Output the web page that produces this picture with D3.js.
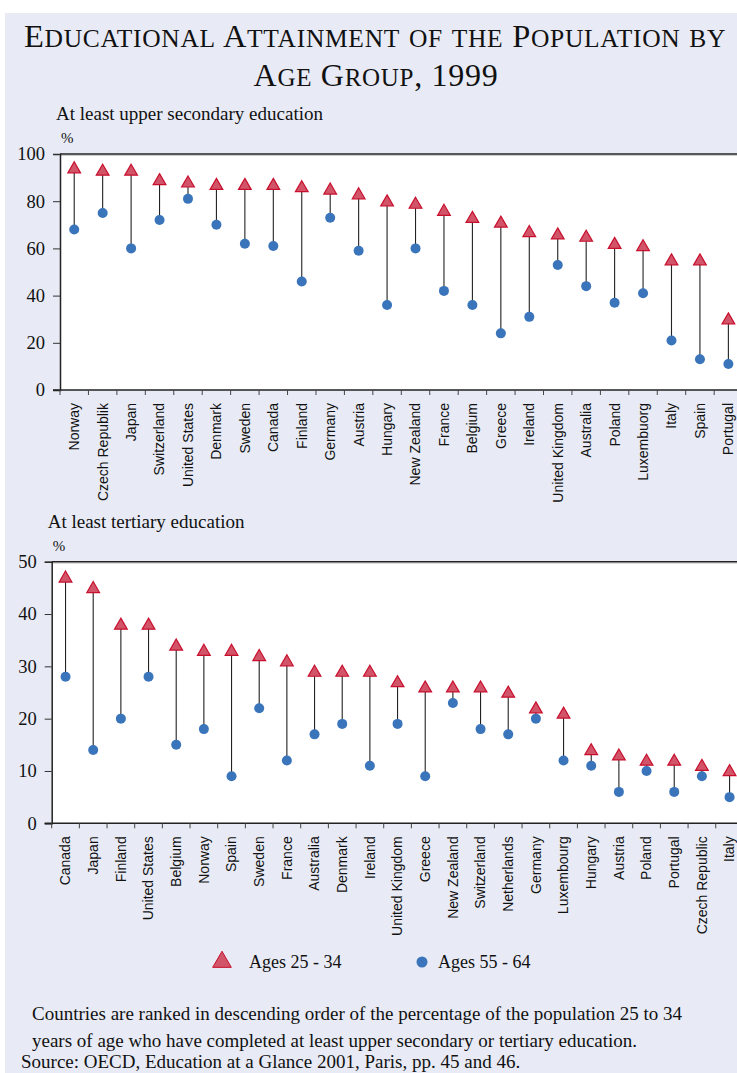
<!DOCTYPE html>
<meta charset="utf-8">
<html>
<head>
    <title>Educational Attainment by Age Group, 1999</title>
    <style>
        body { margin: 0; background: #fff; }
        svg { display: block; }
        .serif { font-family: "Liberation Serif", "Times New Roman", serif; fill: #111; }
        .cname { font-family: "Liberation Sans", Arial, sans-serif; font-size: 14px; fill: #111; }
    </style>
    <script src="https://d3js.org/d3.v7.min.js"></script>
</head>
<body>
<div id="chart"></div>
<script>
    // Upper secondary education, ranked by 25-34
    const upperCountries = ["Norway", "Czech Republik", "Japan", "Switzerland", "United States", "Denmark",
        "Sweden", "Canada", "Finland", "Germany", "Austria", "Hungary", "New Zealand", "France", "Belgium",
        "Greece", "Ireland", "United Kingdom", "Australia", "Poland", "Luxembuorg", "Italy", "Spain", "Portugal"];
    const upperYoung = [94, 93, 93, 89, 88, 87, 87, 87, 86, 85, 83, 80, 79, 76, 73, 71, 67, 66, 65, 62, 61, 55, 55, 30];
    const upperOld = [68, 75, 60, 72, 81, 70, 62, 61, 46, 73, 59, 36, 60, 42, 36, 24, 31, 53, 44, 37, 41, 21, 13, 11];
    const upperTicks = [0, 20, 40, 60, 80, 100];

    // Tertiary education, ranked by 25-34
    const tertCountries = ["Canada", "Japan", "Finland", "United States", "Belgium", "Norway", "Spain", "Sweden",
        "France", "Australia", "Denmark", "Ireland", "United Kingdom", "Greece", "New Zealand", "Switzerland",
        "Netherlands", "Germany", "Luxembourg", "Hungary", "Austria", "Poland", "Portugal", "Czech Republic", "Italy"];
    const tertYoung = [47, 45, 38, 38, 34, 33, 33, 32, 31, 29, 29, 29, 27, 26, 26, 26, 25, 22, 21, 14, 13, 12, 12, 11, 10];
    const tertOld = [28, 14, 20, 28, 15, 18, 9, 22, 12, 17, 19, 11, 19, 9, 23, 18, 17, 20, 12, 11, 6, 10, 6, 9, 5];
    const tertTicks = [0, 10, 20, 30, 40, 50];

    const W = 737, H = 1073;
    const triColor = "#D25469", triStroke = "#C8102E", dotColor = "#3A74BA";

    const svg = d3.select("#chart").append("svg")
        .attr("width", W)
        .attr("height", H);

    // panel background
    svg.append("rect")
        .attr("x", 5).attr("y", 13)
        .attr("width", W - 5).attr("height", H - 13)
        .attr("fill", "#E8EBF5");

    // title in small caps: capitals and digits full size, lower case as small capitals
    function smallCaps(text, x, y, big, small) {
        const t = svg.append("text").attr("class", "serif")
            .attr("x", x).attr("y", y)
            .attr("text-anchor", "middle")
            .attr("letter-spacing", 0.7);
        const runs = [];
        for (const ch of text) {
            const isSmall = ch !== ch.toUpperCase();
            const last = runs[runs.length - 1];
            if (last && last.small === isSmall) last.s += ch;
            else runs.push({ small: isSmall, s: ch });
        }
        runs.forEach(r => {
            t.append("tspan").attr("font-size", r.small ? small : big).text(r.s.toUpperCase());
        });
    }
    smallCaps("Educational Attainment of the Population by", 375, 47, 32.5, 25.5);
    smallCaps("Age Group, 1999", 376, 86, 32, 25);

    const triangle = d3.symbol().type(d3.symbolTriangle).size(70);

    function drawPanel(opts) {
        const g = svg.append("g");
        const x = d3.scaleBand()
            .domain(opts.countries)
            .range([opts.left, opts.right]);
        const y = d3.scaleLinear()
            .domain([0, opts.max])
            .range([opts.bottom, opts.top]);

        // subtitle and unit
        g.append("text").attr("class", "serif")
            .attr("x", opts.left - 4).attr("y", opts.top - 34)
            .attr("font-size", 19)
            .text(opts.subtitle);
        g.append("text").attr("class", "serif")
            .attr("x", opts.left + 1).attr("y", opts.top - 11)
            .attr("font-size", 15)
            .text("%");

        // plot area
        g.append("rect")
            .attr("x", opts.left).attr("y", opts.top)
            .attr("width", opts.right - opts.left).attr("height", opts.bottom - opts.top)
            .attr("fill", "#fff");
        g.append("line")
            .attr("x1", opts.left).attr("x2", opts.right)
            .attr("y1", opts.top + 1.5).attr("y2", opts.top + 1.5)
            .attr("stroke", "#ccc").attr("stroke-width", 1);
        g.append("line")
            .attr("x1", opts.left).attr("x2", opts.right)
            .attr("y1", opts.top).attr("y2", opts.top)
            .attr("stroke", "#222").attr("stroke-width", 1.5);

        // y axis
        const yAxis = g.append("g")
            .attr("transform", "translate(" + opts.left + ",0)")
            .call(d3.axisLeft(y).tickValues(opts.ticks).tickSize(7).tickPadding(8));
        yAxis.select(".domain").attr("stroke", "#222").attr("stroke-width", 1.5);
        yAxis.selectAll(".tick line").attr("stroke", "#333");
        yAxis.selectAll(".tick text")
            .attr("class", "serif")
            .attr("font-size", 18.5)
            .attr("fill", "#111");

        // x axis line with ticks at band edges
        g.append("line")
            .attr("x1", opts.left - 7).attr("x2", opts.right)
            .attr("y1", opts.bottom).attr("y2", opts.bottom)
            .attr("stroke", "#222").attr("stroke-width", 1.5);
        g.selectAll(".xtick")
            .data(opts.countries)
            .enter().append("line")
            .attr("x1", d => x(d)).attr("x2", d => x(d))
            .attr("y1", opts.bottom).attr("y2", opts.bottom + 5)
            .attr("stroke", "#444");

        g.selectAll(".cname")
            .data(opts.countries)
            .enter().append("text")
            .attr("class", "cname")
            .attr("transform", d => "translate(" + (x(d) + x.bandwidth() / 2) + "," + (opts.bottom + 13) + ") rotate(-90)")
            .attr("text-anchor", "end")
            .attr("dy", "0.35em")
            .text(d => d);

        // stems
        g.selectAll(".stem")
            .data(opts.countries)
            .enter().append("line")
            .attr("x1", d => x(d) + x.bandwidth() / 2)
            .attr("x2", d => x(d) + x.bandwidth() / 2)
            .attr("y1", (d, i) => y(opts.young[i]))
            .attr("y2", (d, i) => y(opts.old[i]))
            .attr("stroke", "#222").attr("stroke-width", 1.1);

        // older group dots
        g.selectAll(".old")
            .data(opts.countries)
            .enter().append("circle")
            .attr("cx", d => x(d) + x.bandwidth() / 2)
            .attr("cy", (d, i) => y(opts.old[i]))
            .attr("r", 5)
            .attr("fill", dotColor);

        // younger group triangles
        g.selectAll(".young")
            .data(opts.countries)
            .enter().append("path")
            .attr("d", triangle)
            .attr("transform", (d, i) => "translate(" + (x(d) + x.bandwidth() / 2) + "," + (y(opts.young[i]) + 1) + ")")
            .attr("fill", triColor)
            .attr("stroke", triStroke)
            .attr("stroke-width", 1.2);
    }

    drawPanel({
        countries: upperCountries, young: upperYoung, old: upperOld, ticks: upperTicks, max: 100,
        left: 60, right: 742.6, top: 154, bottom: 390,
        subtitle: "At least upper secondary education"
    });

    drawPanel({
        countries: tertCountries, young: tertYoung, old: tertOld, ticks: tertTicks, max: 50,
        left: 51.7, right: 743.4, top: 561.7, bottom: 823.3,
        subtitle: "At least tertiary education"
    });

    // legend
    const legend = svg.append("g");
    legend.append("path")
        .attr("d", d3.symbol().type(d3.symbolTriangle).size(150))
        .attr("transform", "translate(222,962)")
        .attr("fill", triColor)
        .attr("stroke", triStroke)
        .attr("stroke-width", 1);
    legend.append("text").attr("class", "serif")
        .attr("x", 249).attr("y", 968)
        .attr("font-size", 18)
        .text("Ages 25 - 34");
    legend.append("circle")
        .attr("cx", 422).attr("cy", 962).attr("r", 5.5)
        .attr("fill", dotColor);
    legend.append("text").attr("class", "serif")
        .attr("x", 438).attr("y", 968)
        .attr("font-size", 18)
        .text("Ages 55 - 64");

    // notes
    const notes = [
        "Countries are ranked in descending order of the percentage of the population 25 to 34",
        "years of age who have completed at least upper secondary or tertiary education."
    ];
    svg.selectAll(".note")
        .data(notes)
        .enter().append("text")
        .attr("class", "serif")
        .attr("x", 32)
        .attr("y", (d, i) => 1020 + i * 26.5)
        .attr("font-size", 19)
        .text(d => d);
    svg.append("text").attr("class", "serif")
        .attr("x", 21).attr("y", 1068)
        .attr("font-size", 19)
        .text("Source: OECD, Education at a Glance 2001, Paris, pp. 45 and 46.");
</script>
</body>
</html>
